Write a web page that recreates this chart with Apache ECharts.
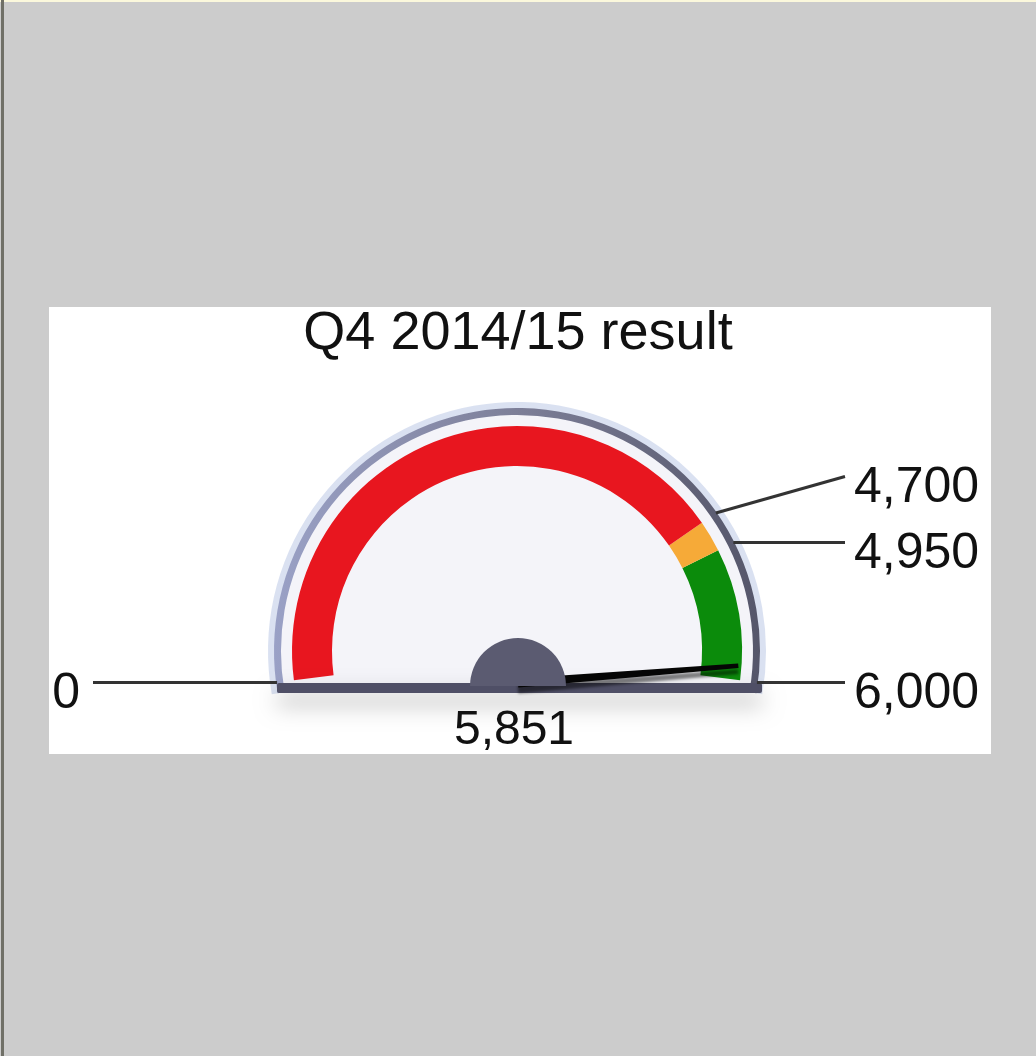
<!DOCTYPE html>
<html><head><meta charset="utf-8">
<script src="https://cdn.jsdelivr.net/npm/echarts@6/dist/echarts.min.js"></script>
<style>
html,body{margin:0;padding:0;background:#cccccc;}
#wrap{position:relative;width:1036px;height:1056px;overflow:hidden;background:#cccccc;}
#edgeT{position:absolute;left:0;top:0;width:1036px;height:2px;background:#fbf8dc;}
#edgeL{position:absolute;left:1px;top:0;width:3px;height:1056px;background:#707067;}
#panel{position:absolute;left:49px;top:307px;width:942px;height:447px;background:#ffffff;}
#chart{position:absolute;left:0;top:0;width:1036px;height:1056px;}
</style></head>
<body><div id="wrap"><div id="edgeT"></div><div id="edgeL"></div><div id="panel"></div><div id="chart"></div></div>
<script>
// ---- data ----
const titleText = 'Q4 2014/15 result';
const axisMin = 0;
const axisMax = 6000;
const thresholds = [0, 4700, 4950, 6000];
const thresholdLabels = ['0', '4,700', '4,950', '6,000'];
const bandEnds = [4700, 4950, 6000];
const bandColors = ['#e8161f', '#f6aa38', '#0b8b0b'];
const resultValue = [5851];

// ---- layout / style ----
const FONT = '"Liberation Sans", Arial, sans-serif';
const dialCenter = [517, 651];
const dialStart = 187.5, dialEnd = -7.5;
const pivot = [518, 683];
const rightColX = 845, leftColX = 93, labelGap = 66;
const faceColor = '#f4f4f9';

const chart = echarts.init(document.getElementById('chart'), null, {renderer: 'canvas'});
const bandStops = bandEnds.map((v, i) => [(v - axisMin) / (axisMax - axisMin), bandColors[i]]);

function plainGauge(extra) {
  return Object.assign({
    type: 'gauge', min: axisMin, max: axisMax, splitNumber: 1,
    pointer: {show: false}, anchor: {show: false}, progress: {show: false},
    axisTick: {show: false}, splitLine: {show: false}, axisLabel: {show: false},
    title: {show: false}, detail: {show: false},
    data: [{value: 0}], silent: true, animation: false
  }, extra);
}

function leaderLayout(api) {
  const pts = thresholds.map(v => api.coord([1, v]));
  const endY = pts.map(p => p[1]);
  const right = thresholds.map((v, i) => i).filter(i => pts[i][0] > dialCenter[0])
    .sort((a, b) => pts[b][1] - pts[a][1]);
  let prev = Infinity;
  right.forEach(i => { endY[i] = Math.min(pts[i][1], prev - labelGap); prev = endY[i]; });
  return {pts, endY};
}

const option = {
  animation: false,
  title: {
    text: titleText, left: 'center', top: 302,
    textStyle: {fontSize: 54, fontWeight: 'normal', color: '#111', fontFamily: FONT}
  },
  polar: {center: dialCenter, radius: 242},
  angleAxis: {type: 'value', min: axisMin, max: axisMax, startAngle: dialStart, endAngle: dialEnd, clockwise: true, show: false},
  radiusAxis: {type: 'value', min: 0, max: 1, show: false},
  graphic: [{
    type: 'rect', z: 30,
    shape: {x: 277, y: 683, width: 485, height: 10, r: 2},
    style: {fill: '#4f4f66', shadowBlur: 22, shadowOffsetY: 12, shadowColor: 'rgba(0,0,0,0.28)'}
  }],
  series: [
    plainGauge({center: dialCenter, radius: 249, startAngle: 190, endAngle: -10, z: 1,
      axisLine: {lineStyle: {width: 9, color: [[1, 'rgba(150,168,215,0.35)']]}}}),
    plainGauge({center: dialCenter, radius: 240, startAngle: 190, endAngle: -10, z: 1,
      axisLine: {lineStyle: {width: 240, color: [[1, faceColor]]}}}),
    plainGauge({center: pivot, radius: 234, startAngle: 180, endAngle: 0, z: 1,
      axisLine: {lineStyle: {width: 234, color: [[1, faceColor]]}}}),
    plainGauge({center: dialCenter, radius: 243, startAngle: 190, endAngle: -10, z: 2,
      axisLine: {lineStyle: {width: 7, color: [[1, new echarts.graphic.LinearGradient(0, 0, 1, 0, [
        {offset: 0, color: '#9aa1c6'}, {offset: 0.5, color: '#7d7f98'}, {offset: 1, color: '#55566a'}])]]}}}),
    plainGauge({center: dialCenter, radius: 225, startAngle: dialStart, endAngle: dialEnd, z: 3,
      axisLine: {lineStyle: {width: 40, color: bandStops}}}),
    plainGauge({center: pivot, radius: 240, startAngle: 180, endAngle: 0, z: 40,
      data: [{value: resultValue[0]}],
      axisLine: {show: false},
      pointer: {show: true, icon: 'path://M0.5 0 L1.5 0 L2 100 L0 100 Z', length: 221, width: 9, offsetCenter: [0, 0],
        itemStyle: {color: '#050505', shadowColor: 'rgba(0,0,0,0.5)', shadowBlur: 3, shadowOffsetY: 6}},
      detail: {show: true, offsetCenter: [-4, 48], formatter: v => v.toLocaleString('en-US'),
        fontSize: 48, fontWeight: 'normal', color: '#111', fontFamily: FONT}}),
    plainGauge({center: [518, 686], radius: 48, startAngle: 180, endAngle: 0, z: 50,
      axisLine: {lineStyle: {width: 48, color: [[1, '#5b5b71']]}}}),
    {
      type: 'custom', coordinateSystem: 'polar', z: 60, silent: true,
      data: thresholds.map((v, i) => [1, v, i]),
      encode: {radius: 0, angle: 1},
      renderItem: function (params, api) {
        const i = api.value(2);
        const L = leaderLayout(api);
        const p = L.pts[i];
        const isRight = p[0] > dialCenter[0];
        const ex = isRight ? rightColX : leftColX;
        const ey = L.endY[i];
        return {
          type: 'group',
          children: [
            {type: 'polyline', shape: {points: [p, [ex, ey]]},
              style: {stroke: '#333', lineWidth: 3, fill: null}},
            {type: 'text', style: {
              text: thresholdLabels[i], x: isRight ? ex + 9 : ex - 13, y: ey + 12,
              align: isRight ? 'left' : 'right', verticalAlign: 'middle',
              font: '50px ' + FONT, fill: '#111'}}
          ]
        };
      }
    }
  ]
};
chart.setOption(option);
</script>
</body></html>
